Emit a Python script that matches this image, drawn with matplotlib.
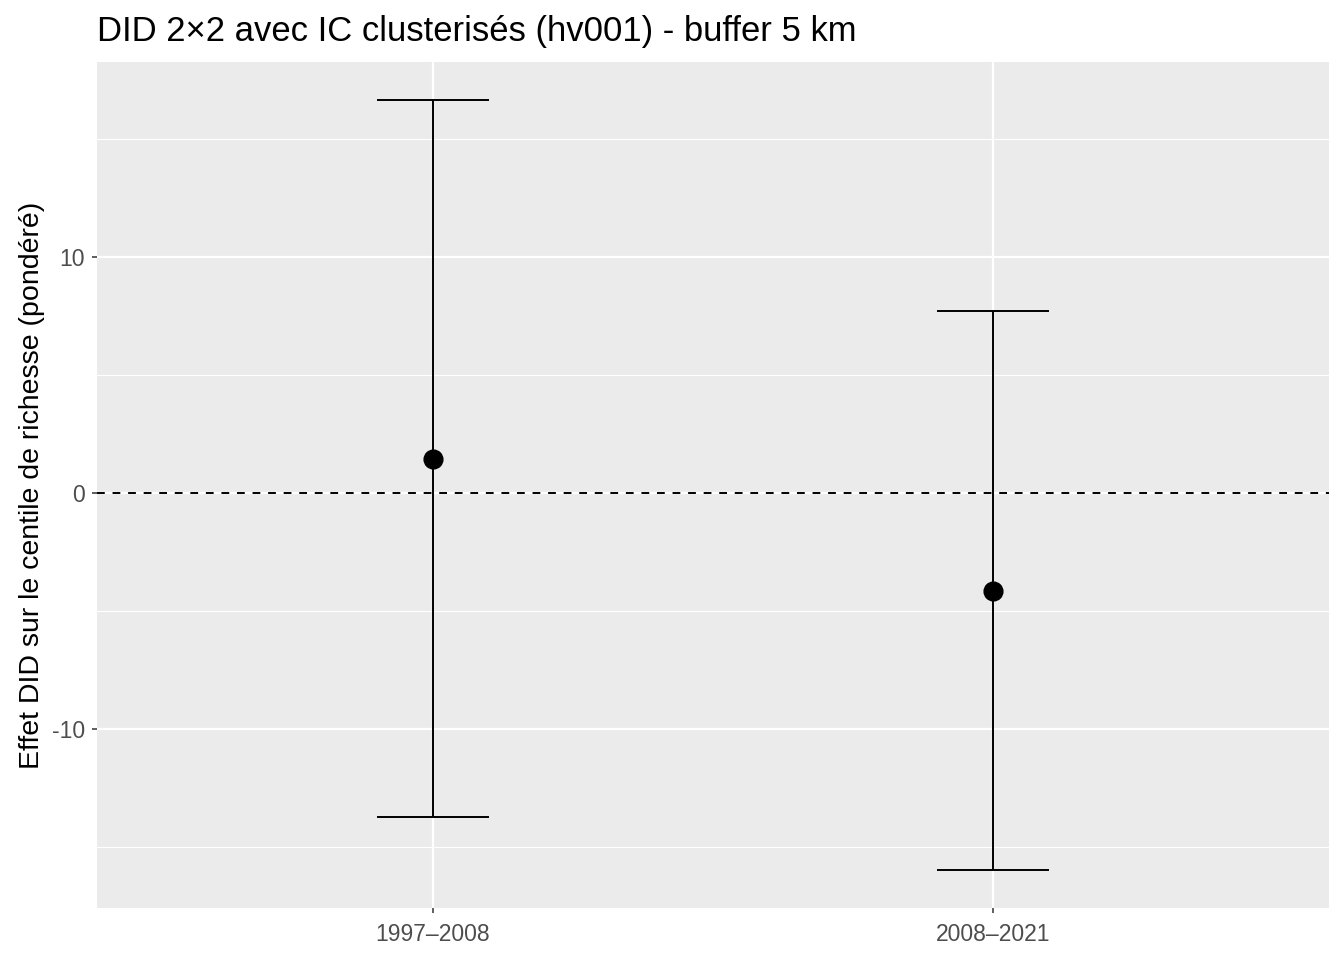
import numpy as np
import matplotlib.pyplot as plt

plt.rcParams['font.family'] = ['Liberation Sans', 'DejaVu Sans']
plt.rcParams['axes.unicode_minus'] = False

# Estimates and 95% CI
periods = ['1997–2008', '2008–2021']
estimate = [1.44, -4.15]
ci_low = [-13.73, -15.97]
ci_high = [16.65, 7.71]

x = np.arange(1, len(periods) + 1)
cap = 0.1

fig = plt.figure(figsize=(13.44, 9.6), dpi=100)
ax = fig.add_axes([97 / 1344, 52 / 960, 1232 / 1344, 846 / 960])
ax.set_facecolor('#EBEBEB')

# grid like ggplot theme_gray
ax.set_yticks([-10, 0, 10])
ax.set_yticks([-15, -5, 5, 15], minor=True)
ax.set_xticks(x)
ax.set_xticklabels(periods)
ax.grid(True, which='major', color='white', linewidth=1.6)
ax.grid(True, which='minor', axis='y', color='white', linewidth=0.8)
ax.set_axisbelow(True)
for s in ax.spines.values():
    s.set_visible(False)

ax.axhline(0, color='black', linestyle=(0, (4, 4)), linewidth=1.4, zorder=2)
ax.vlines(x, ci_low, ci_high, color='black', linewidth=1.4, zorder=3)
ax.hlines(ci_low, x - cap, x + cap, color='black', linewidth=1.4, zorder=3)
ax.hlines(ci_high, x - cap, x + cap, color='black', linewidth=1.4, zorder=3)
ax.plot(x, estimate, 'o', color='black', markersize=13.5, zorder=4)

ax.set_xlim(0.4, 2.6)
ax.set_ylim(-17.58, 18.26)

ax.tick_params(axis='both', which='major', length=3.8, width=1.1, color='#333333',
               labelsize=16.5, labelcolor='#4D4D4D', pad=5)
ax.tick_params(axis='x', which='major', pad=7)
ax.tick_params(axis='both', which='minor', length=0)

ax.set_ylabel('Effet DID sur le centile de richesse (pondéré)', fontsize=20.5,
              color='black', labelpad=5)
ax.set_title('DID 2×2 avec IC clusterisés (hv001) - buffer 5 km', loc='left',
             fontsize=24.9, color='black', pad=15)

fig.savefig('out.png', dpi=100)
